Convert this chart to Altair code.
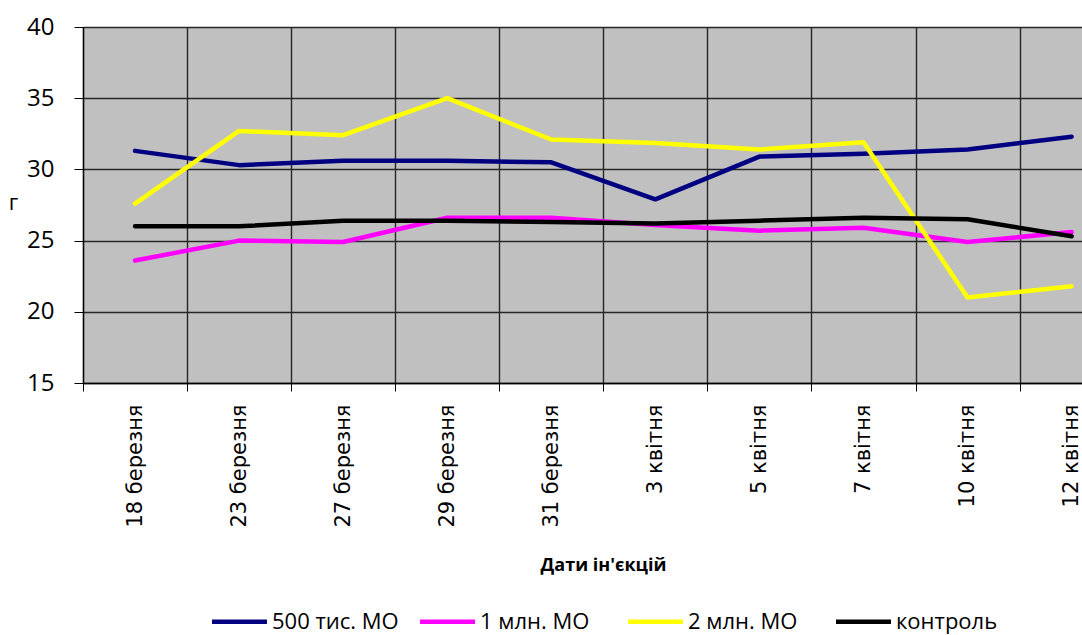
import json
import altair as alt
import pandas as pd

# Injection dates (category axis)
dates = ["18 березня", "23 березня", "27 березня", "29 березня", "31 березня",
         "3 квітня", "5 квітня", "7 квітня", "10 квітня", "12 квітня"]

# Series values, grams
series_names = ["500 тис. МО", "1 млн. МО", "2 млн. МО", "контроль"]
s_500k = [31.3, 30.3, 30.6, 30.6, 30.5, 27.9, 30.9, 31.1, 31.4, 32.3]
s_1m = [23.6, 25.0, 24.9, 26.6, 26.6, 26.1, 25.7, 25.9, 24.9, 25.6]
s_2m = [27.6, 32.7, 32.4, 35.0, 32.1, 31.85, 31.4, 31.9, 21.0, 21.8]
s_ctrl = [26.0, 26.0, 26.4, 26.4, 26.3, 26.2, 26.4, 26.6, 26.5, 25.3]
colors = ["#000080", "#FF00FF", "#FFFF00", "#000000"]

rows = []
for name, vals in zip(series_names, [s_500k, s_1m, s_2m, s_ctrl]):
    for i, (d, v) in enumerate(zip(dates, vals)):
        rows.append({"series": name, "date": d, "pos": i, "value": v})
df = pd.DataFrame(rows)

# Category boundaries carry the grid and ticks; centres carry the labels
tick_values = [i * 0.5 - 0.5 for i in range(20)]
label_expr = ("datum.value % 1 === 0 ? " + json.dumps(dates, ensure_ascii=False)
              + "[datum.value] : ''")

x_axis = alt.Axis(
    values=tick_values,
    labelExpr=label_expr,
    labelAngle=270,
    labelFont="DejaVu Sans",
    labelFontSize=21,
    labelColor="#000000",
    labelPadding=13,
    labelOverlap=False,
    labelFlush=False,
    labelBound=False,
    tickSize=8,
    tickColor="#000000",
    tickOpacity={"condition": {"test": "datum.value % 1 !== 0", "value": 1}, "value": 0},
    grid=True,
    gridColor="#262626",
    gridWidth=1.4,
    gridOpacity={"condition": {"test": "datum.value % 1 !== 0", "value": 1}, "value": 0},
    domainColor="#000000",
    domainWidth=1.3,
    title="Дати ін'єкцій",
    titleFont="Open Sans",
    titleFontSize=18,
    titleFontWeight="bold",
    titleColor="#000000",
    titleX=520,
    titleY=182,
    titleBaseline="middle",
    titleAnchor="start",
    titleAlign="center",
)

y_axis = alt.Axis(
    values=[15, 20, 25, 30, 35, 40],
    labelFont="Open Sans",
    labelFontSize=24,
    labelColor="#000000",
    labelPadding=20,
    tickSize=9,
    tickColor="#000000",
    grid=True,
    gridColor="#262626",
    gridWidth=1.4,
    domainColor="#000000",
    domainWidth=1.3,
    title="г",
    titleFont="Open Sans",
    titleFontSize=22,
    titleFontWeight="normal",
    titleColor="#000000",
    titleAngle=0,
    titleX=-70,
    titleY=175,
    titleBaseline="middle",
    titleAlign="center",
)

# Long flat legend swatch: a wide path on a small symbol box keeps the rows short
swatch_path = "M-2.5,0L2.5,0"

chart = alt.Chart(df).mark_line(strokeWidth=4.5, strokeJoin="round", strokeCap="round").encode(
    x=alt.X("pos:Q", scale=alt.Scale(domain=[-0.5, 9.1], nice=False, zero=False), axis=x_axis),
    y=alt.Y("value:Q", scale=alt.Scale(domain=[15, 40], nice=False, zero=False), axis=y_axis),
    color=alt.Color(
        "series:N",
        scale=alt.Scale(domain=series_names, range=colors),
        sort=series_names,
        legend=alt.Legend(
            title=None,
            orient="none",
            legendX=143,
            legendY=581,
            direction="horizontal",
            columns=4,
            gridAlign="all",
            symbolType=swatch_path,
            symbolSize=484,
            symbolStrokeWidth=4.5,
            labelFont="Open Sans",
            labelFontSize=22,
            labelColor="#000000",
            labelOffset=19,
            columnPadding=12,
        ),
    ),
    order=alt.Order("pos:Q"),
).properties(
    width=999,
    height=356,
    autosize=alt.AutoSizeParams(type="none"),
    padding={"left": 83, "top": 27, "right": 0, "bottom": 252},
).configure(
    background="#FFFFFF",
).configure_view(
    fill="#C0C0C0",
    stroke="#808080",
    strokeWidth=1,
)

chart.save("out.html", embed_options={"renderer": "svg", "actions": False})
